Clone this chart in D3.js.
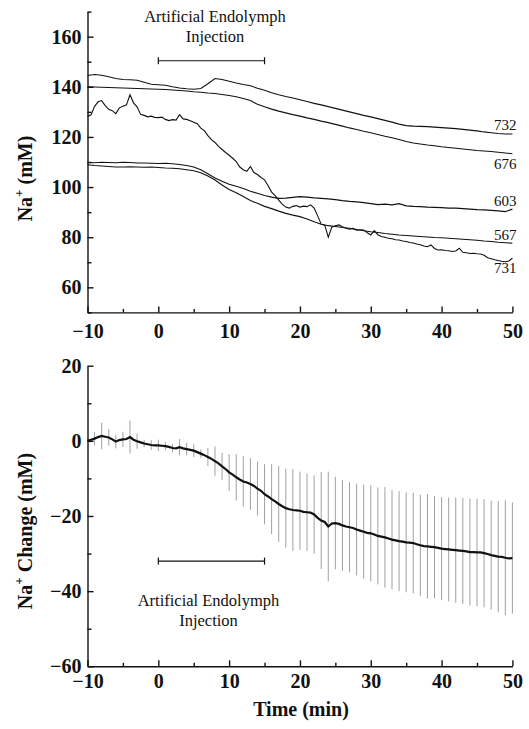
<!DOCTYPE html>
<html>
<head>
<meta charset="utf-8">
<script src="https://cdn.jsdelivr.net/npm/d3@7"></script>
<style>
  body { margin: 0; background: #fff; }
  svg { display: block; }
  text { font-family: "Liberation Serif", "Times New Roman", serif; fill: #111; }
  .tick text { font-size: 20px; font-weight: bold; }
  .domain, .tick line { stroke: #111; stroke-width: 1.4px; }
</style>
</head>
<body>
<div id="chart"></div>
<script>
// minutes, one reading per minute for the smooth traces
var minutes = d3.range(-10, 51, 1);
// half-minute readings for the noisy trace and the mean
var halfMinutes = d3.range(-10, 50.01, 0.5);

var trace732 = [144.5, 144.9, 144.6, 144.0, 143.3, 142.9, 142.8, 142.6, 141.8, 141.0,
  140.8, 140.6, 140.0, 139.5, 139.2, 139.0, 139.3, 141.2, 143.3, 142.9,
  142.2, 141.5, 140.9, 140.4, 139.4, 138.6, 137.6, 136.8, 136.1, 135.5,
  134.8, 134.1, 133.4, 132.8, 132.1, 131.4, 130.7, 130.0, 129.3, 128.6,
  128.0, 127.3, 126.6, 125.9, 125.1, 124.5, 124.3, 124.2, 124.1, 123.9,
  123.7, 123.5, 123.3, 123.0, 122.7, 122.4, 122.0, 121.7, 121.4, 121.2, 121.2];

var trace676 = [140.0, 139.9, 139.8, 139.7, 139.6, 139.5, 139.4, 139.3, 139.2, 139.1,
  139.0, 138.9, 138.7, 138.5, 138.3, 138.0, 137.8, 137.5, 137.3, 136.9,
  136.5, 136.0, 135.3, 134.5, 133.0, 132.0, 131.1, 130.3, 129.6, 128.9,
  128.3, 127.6, 127.0, 126.3, 125.7, 125.0, 124.3, 123.6, 123.0, 122.3,
  121.7, 121.0, 120.3, 119.7, 119.0, 118.2, 117.6, 117.2, 116.8, 116.5,
  116.1, 115.8, 115.5, 115.2, 114.9, 114.6, 114.4, 114.2, 113.9, 113.6, 113.3];

var trace603 = [109.8, 109.7, 109.9, 109.8, 109.7, 109.9, 109.8, 109.6, 109.6, 109.5,
  109.4, 109.5, 109.3, 109.0, 108.6, 108.0, 106.9, 105.3, 103.6, 102.3,
  101.1, 100.3, 99.4, 98.3, 97.5, 96.6, 96.0, 95.5, 95.6, 95.9,
  96.2, 96.0, 95.7, 95.5, 95.3, 95.0, 94.6, 94.3, 94.1, 93.8,
  93.4, 93.0, 93.2, 92.9, 93.4, 92.5, 92.3, 92.2, 92.0, 91.9,
  91.8, 91.6, 91.6, 91.4, 91.2, 91.0, 90.9, 90.7, 90.5, 90.2, 91.2];

var trace567 = [108.9, 108.6, 108.4, 108.2, 108.0, 108.0, 108.1, 108.0, 107.9, 108.0,
  107.8, 107.6, 107.5, 107.3, 106.9, 106.5, 105.7, 104.4, 102.8, 100.8,
  99.0, 97.7, 96.2, 94.6, 93.5, 92.3, 91.4, 90.4, 89.5, 88.8,
  88.2, 87.3, 86.2, 85.2, 84.6, 84.3, 83.9, 83.6, 83.1, 82.6,
  82.2, 81.9, 81.5, 81.2, 80.9, 80.7, 80.5, 80.3, 80.1, 79.9,
  79.8, 79.6, 79.4, 79.2, 79.0, 78.8, 78.5, 78.3, 78.0, 77.8, 77.6];

var trace731 = [128.2, 128.8, 132.2, 134.0, 134.5, 132.5, 131.0, 130.5, 129.3, 131.6,
  132.2, 132.8, 136.8, 133.6, 132.0, 129.0, 128.6, 128.0, 128.3, 127.8,
  127.7, 127.9, 127.0, 126.5, 126.9, 126.7, 128.9, 127.2, 127.0, 126.5,
  125.9, 125.3, 123.5, 122.5, 120.5, 118.9, 117.8, 116.2, 115.0, 113.8,
  112.7, 111.5, 110.2, 108.0, 106.9, 106.3, 108.2, 105.8, 105.0, 103.8,
  102.9, 100.5, 98.0, 96.6, 94.8, 93.2, 92.0, 91.6, 92.3, 92.6,
  92.0, 92.4, 92.2, 92.9, 91.6, 88.5, 85.2, 84.8, 80.0, 84.0,
  84.6, 84.9, 84.2, 83.6, 83.2, 83.5, 82.8, 83.0, 82.9, 81.8,
  80.9, 82.6, 81.0, 80.3, 80.0, 79.6, 79.4, 79.0, 78.9, 78.5,
  78.3, 77.9, 77.7, 77.3, 77.0, 76.5, 76.2, 76.9, 75.5, 74.9,
  75.0, 74.7, 74.6, 74.3, 74.5, 75.6, 74.0, 73.8, 73.5, 73.6,
  73.4, 73.3, 72.8, 71.8, 71.4, 71.0, 70.7, 70.4, 70.2, 70.5, 71.6];

var traceNames = ["732", "676", "603", "567", "731"];
var labelSide = ["above", "below", "above", "above", "below"];

// mean change, half-minute readings
var meanChange = [0, 0.3, 0.6, 1.0, 1.3, 1.1, 0.9, 0.4, -0.2, 0.2,
  0.4, 0.5, 1.0, 0.3, -0.1, -0.4, -0.7, -0.9, -1.1, -1.2,
  -1.2, -1.3, -1.4, -1.6, -1.9, -2.0, -1.7, -2.0, -2.2, -2.4,
  -2.6, -3.0, -3.4, -3.8, -4.3, -4.8, -5.4, -6.0, -6.8, -7.5,
  -8.4, -9.0, -9.7, -10.3, -10.8, -11.1, -11.5, -12.0, -12.7, -13.3,
  -14.2, -14.8, -15.5, -16.1, -16.8, -17.4, -17.9, -18.2, -18.4, -18.5,
  -18.6, -18.9, -19.0, -19.1, -19.6, -20.5, -21.2, -21.6, -22.8, -22.0,
  -21.9, -22.1, -22.5, -22.8, -23.0, -23.2, -23.6, -23.9, -24.2, -24.5,
  -24.6, -24.9, -25.3, -25.5, -25.7, -26.0, -26.3, -26.5, -26.7, -26.8,
  -27.0, -27.1, -27.2, -27.5, -27.8, -28.0, -28.1, -28.2, -28.3, -28.5,
  -28.7, -28.8, -28.9, -29.0, -29.1, -29.2, -29.3, -29.4, -29.6, -29.6,
  -29.7, -29.7, -29.9, -30.1, -30.4, -30.6, -30.8, -30.9, -31.1, -31.3, -31.2];

// error bars every minute from -9 to 50
var errMinutes = d3.range(-9, 51, 1);
var errSD = [1.8, 3.5, 2.2, 1.8, 2.0, 4.4, 2.0, 1.0, 1.3, 1.5,
  1.1, 1.1, 2.2, 1.7, 1.7, 1.1, 2.4, 3.9, 3.6, 4.9,
  6.2, 6.7, 6.9, 7.2, 8.0, 9.3, 10.1, 10.5, 10.9, 10.4,
  10.3, 10.4, 12.9, 14.6, 12.3, 12.1, 12.0, 12.2, 12.5, 12.8,
  12.9, 13.4, 13.2, 13.3, 13.3, 13.4, 13.5, 13.9, 13.6, 13.7,
  13.8, 14.0, 14.1, 14.2, 14.3, 14.4, 14.5, 14.8, 15.3, 14.8];

var injection = [0, 15];
var injectionText = ["Artificial Endolymph", "Injection"];

var xTicks = [-10, 0, 10, 20, 30, 40, 50];
var xMinor = [-5, 5, 15, 25, 35, 45];
var topTicks = [60, 80, 100, 120, 140, 160];
var topMinor = [50, 70, 90, 110, 130, 150, 170];
var botTicks = [-60, -40, -20, 0, 20];
var botMinor = [-50, -30, -10, 10];

var W = 529, H = 729;
var svg = d3.select("#chart").append("svg").attr("width", W).attr("height", H);

var x = d3.scaleLinear().domain([-10, 50]).range([87.5, 512.4]);
var yTop = d3.scaleLinear().domain([50, 170]).range([312.4, 11.6]);
var yBot = d3.scaleLinear().domain([-60, 20]).range([666.3, 365.7]);

function drawAxes(y, yt, ym, xPad) {
  svg.append("g")
    .attr("transform", "translate(0," + y.range()[0] + ")")
    .call(d3.axisBottom(x).tickValues(xTicks).tickSize(-6).tickSizeOuter(0).tickPadding(xPad).tickFormat(d3.format("d")));
  svg.append("g")
    .attr("transform", "translate(0," + y.range()[0] + ")")
    .call(d3.axisBottom(x).tickValues(xMinor).tickSize(-3.5).tickSizeOuter(0).tickFormat(""))
    .select(".domain").remove();
  svg.append("g")
    .attr("transform", "translate(" + x.range()[0] + ",0)")
    .call(d3.axisLeft(y).tickValues(yt).tickSize(-6).tickSizeOuter(0).tickPadding(6).tickFormat(d3.format("d")));
  svg.append("g")
    .attr("transform", "translate(" + x.range()[0] + ",0)")
    .call(d3.axisLeft(y).tickValues(ym).tickSize(-4).tickSizeOuter(0).tickFormat(""))
    .select(".domain").remove();
}

drawAxes(yTop, topTicks, topMinor, 11.5);
drawAxes(yBot, botTicks, botMinor, 7.5);

// top panel traces
var traces = [
  { name: traceNames[0], t: minutes, v: trace732 },
  { name: traceNames[1], t: minutes, v: trace676 },
  { name: traceNames[2], t: minutes, v: trace603 },
  { name: traceNames[3], t: minutes, v: trace567 },
  { name: traceNames[4], t: halfMinutes, v: trace731 }
];

var lineTop = d3.line()
  .x(function (d) { return x(d[0]); })
  .y(function (d) { return yTop(d[1]); });

traces.forEach(function (tr, i) {
  var pts = d3.zip(tr.t, tr.v);
  svg.append("path")
    .attr("d", lineTop(pts))
    .attr("fill", "none")
    .attr("stroke", "#111")
    .attr("stroke-width", 1.1);
  var last = pts[pts.length - 1];
  svg.append("text")
    .attr("x", x(50) + 4)
    .attr("y", yTop(last[1]) + (labelSide[i] == "above" ? -3.5 : 15))
    .attr("text-anchor", "end")
    .style("font-size", "15px")
    .text(tr.name);
});

// injection brackets and text
function bracket(y, v) {
  var g = svg.append("g").attr("stroke", "#111").attr("stroke-width", 1.2);
  g.append("line").attr("x1", x(injection[0])).attr("x2", x(injection[1]))
    .attr("y1", y(v)).attr("y2", y(v));
  injection.forEach(function (t) {
    g.append("line").attr("x1", x(t)).attr("x2", x(t))
      .attr("y1", y(v) - 3.5).attr("y2", y(v) + 3.5);
  });
}
bracket(yTop, 150.4);
bracket(yBot, -32);

function injLabel(cx, y1, y2) {
  svg.append("text").attr("x", cx).attr("y", y1).attr("text-anchor", "middle")
    .style("font-size", "16.5px").text(injectionText[0]);
  svg.append("text").attr("x", cx).attr("y", y2).attr("text-anchor", "middle")
    .style("font-size", "16.5px").text(injectionText[1]);
}
injLabel(215, 21.5, 41.5);
injLabel(208.5, 606, 626);

// bottom panel: error bars then mean
var meanPts = d3.zip(halfMinutes, meanChange);
var meanAt = function (t) { return meanChange[Math.round((t + 10) * 2)]; };

svg.append("g").selectAll("line")
  .data(d3.zip(errMinutes, errSD))
  .enter()
  .append("line")
  .attr("x1", function (d) { return x(d[0]); })
  .attr("x2", function (d) { return x(d[0]); })
  .attr("y1", function (d) { return yBot(meanAt(d[0]) + d[1]); })
  .attr("y2", function (d) { return yBot(meanAt(d[0]) - d[1]); })
  .attr("stroke", "#a0a0a0")
  .attr("stroke-width", 1);

svg.append("path")
  .attr("d", d3.line().x(function (d) { return x(d[0]); }).y(function (d) { return yBot(d[1]); })(meanPts))
  .attr("fill", "none")
  .attr("stroke", "#111")
  .attr("stroke-width", 2.2);

// axis titles
function yTitle(cx, cy, words) {
  var t = svg.append("text")
    .attr("transform", "translate(" + cx + "," + cy + ") rotate(-90)")
    .attr("text-anchor", "middle")
    .style("font-size", "20px")
    .style("font-weight", "bold");
  t.append("tspan").text("Na");
  t.append("tspan").attr("dy", -9).style("font-size", "13px").text("+");
  t.append("tspan").attr("dy", 9).text(words);
}
yTitle(31.5, 178.5, " (mM)");
yTitle(31.5, 531, " Change (mM)");

svg.append("text")
  .attr("x", 301)
  .attr("y", 716)
  .attr("text-anchor", "middle")
  .style("font-size", "20px")
  .style("font-weight", "bold")
  .text("Time (min)");
</script>
</body>
</html>
